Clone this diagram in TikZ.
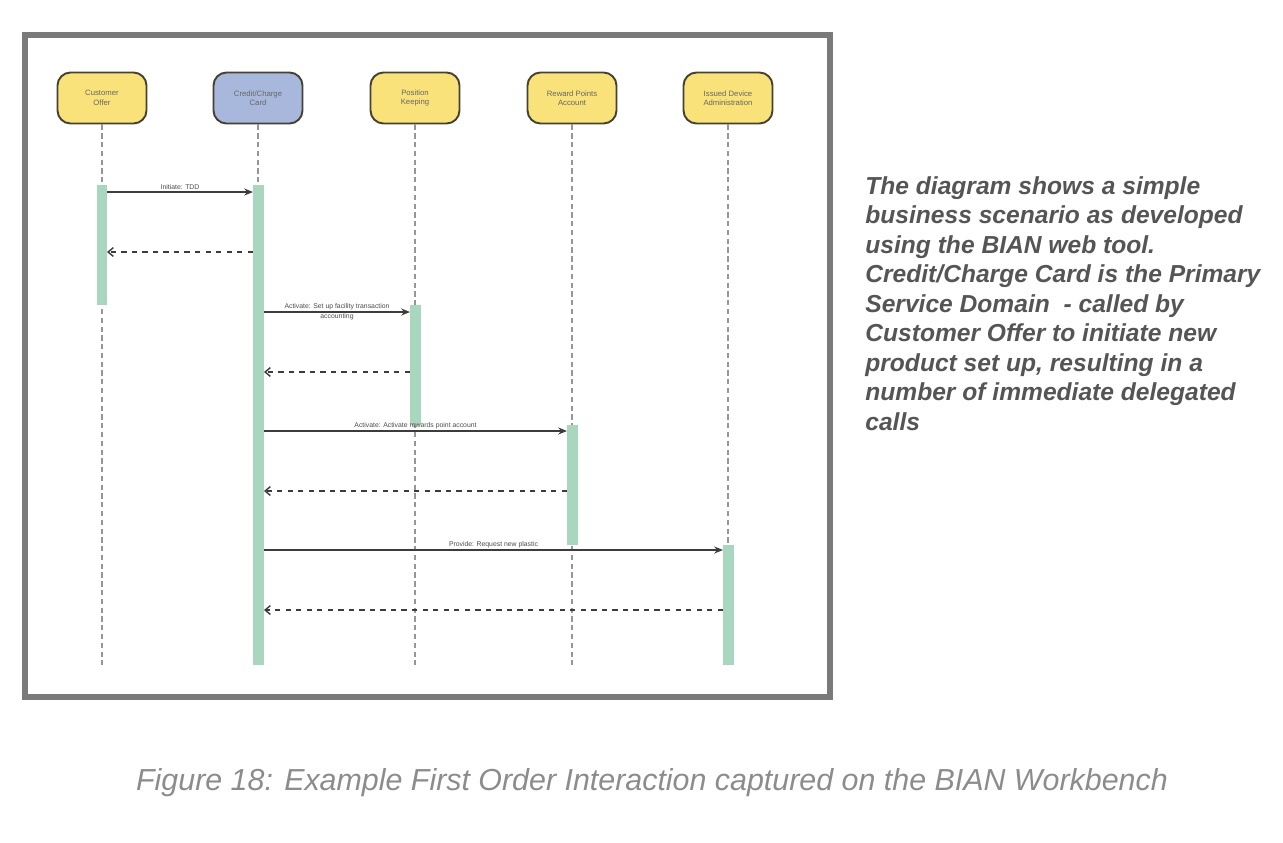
\documentclass[tikz,border=0pt]{standalone}
\usepackage{fontspec}
\setmainfont{Liberation Sans}
\usepackage{xcolor}
\definecolor{bianframe}{RGB}{122, 122, 122}
\definecolor{bianyellow}{RGB}{250, 226, 122}
\definecolor{bianblue}{RGB}{168, 184, 220}
\definecolor{bianedge}{RGB}{70, 66, 50}
\definecolor{biangreen}{RGB}{168, 214, 190}
\definecolor{bianline}{RGB}{60, 60, 60}
\definecolor{bianlife}{RGB}{150, 150, 150}
\definecolor{biantext}{RGB}{85, 85, 85}
\definecolor{biancap}{RGB}{140, 140, 140}
\usetikzlibrary{positioning,arrows.meta}

\begin{document}
\begin{tikzpicture}[x=0.02cm,y=-0.02cm,
    sdbox/.style={draw=bianedge, line width=1.1pt, rounded corners=0.26cm,
        minimum width=1.78cm, minimum height=1.02cm, align=center,
        font=\fontsize{4.4}{5.4}\selectfont, text=black!60},
    lifeline/.style={bianlife, densely dashed, line width=0.6pt},
    activation/.style={fill=biangreen, draw=none},
    callmsg/.style={bianline, line width=0.8pt, -{Stealth[length=5pt,width=4pt]}},
    returnmsg/.style={bianline, dashed, line width=0.8pt, -{Straight Barb[length=3pt,width=5pt]}},
    msglabel/.style={font=\fontsize{3.9}{5.6}\selectfont, text=black!70, inner sep=1pt, align=center}]
    \useasboundingbox (0,0) rectangle (1283,842);

    % Frame
    \draw[bianframe, line width=3.4pt, fill=white] (25,35) rectangle (830,697);

    % Service domains
    \node[sdbox, fill=bianyellow] (offer) at (102,98) {Customer\\Offer};
    \node[sdbox, fill=bianblue] (card) at (258,98) {Credit/Charge\\Card};
    \node[sdbox, fill=bianyellow] (position) at (415,98) {Position\\Keeping};
    \node[sdbox, fill=bianyellow] (reward) at (572,98) {Reward Points\\Account};
    \node[sdbox, fill=bianyellow] (device) at (728,98) {Issued Device\\Administration};

    % Lifelines
    \foreach \d in {offer,card,position,reward,device}
        \draw[lifeline] (\d.south) -- (\d.south |- 0,665);

    % Activation bars
    \fill[activation] (97,185) rectangle (107,305);
    \fill[activation] (253,185) rectangle (264,665);
    \fill[activation] (410,305) rectangle (421,425);
    \fill[activation] (567,425) rectangle (578,545);
    \fill[activation] (723,545) rectangle (734,665);

    % Message end points
    \coordinate (offerA) at (107,192);
    \coordinate (cardA) at (253,192);
    \coordinate (offerB) at (107,252);
    \coordinate (cardB) at (253,252);
    \coordinate (cardC) at (264,312);
    \coordinate (positionC) at (410,312);
    \coordinate (cardD) at (264,372);
    \coordinate (positionD) at (410,372);
    \coordinate (cardE) at (264,431);
    \coordinate (rewardE) at (567,431);
    \coordinate (cardF) at (264,491);
    \coordinate (rewardF) at (567,491);
    \coordinate (cardG) at (264,550);
    \coordinate (deviceG) at (723,550);
    \coordinate (cardH) at (264,610);
    \coordinate (deviceH) at (723,610);

    % Calls and returns
    \draw[callmsg] (offerA) -- node[msglabel, above] (initiate) {Initiate: TDD} (cardA);
    \draw[returnmsg] (cardB) -- (offerB);
    \draw[callmsg] (cardC) -- node[msglabel, yshift=0.3pt] (setup)
        {Activate: Set up facility transaction\\accounting} (positionC);
    \draw[returnmsg] (positionD) -- (cardD);
    \draw[callmsg] (cardE) -- node[msglabel, above] (rewards) {Activate: Activate rewards point account} (rewardE);
    \draw[returnmsg] (rewardF) -- (cardF);
    \draw[callmsg] (cardG) -- node[msglabel, above] (plastic) {Provide: Request new plastic} (deviceG);
    \draw[returnmsg] (deviceH) -- (cardH);

    % Explanation
    \node[anchor=north west, align=left, text=biantext, inner sep=0pt,
        font=\fontsize{14}{16.8}\selectfont\bfseries\itshape] (note) at (865,176)
        {The diagram shows a simple\\business scenario as developed\\using the BIAN web tool.\\Credit/Charge Card is the Primary\\Service Domain \ - called by\\Customer Offer to initiate new\\product set up, resulting in a\\number of immediate delegated\\calls};

    % Caption
    \node[text=biancap, font=\fontsize{17.3}{19}\selectfont\itshape] (caption) at (652,783)
        {Figure 18: Example First Order Interaction captured on the BIAN Workbench};
\end{tikzpicture}
\end{document}
